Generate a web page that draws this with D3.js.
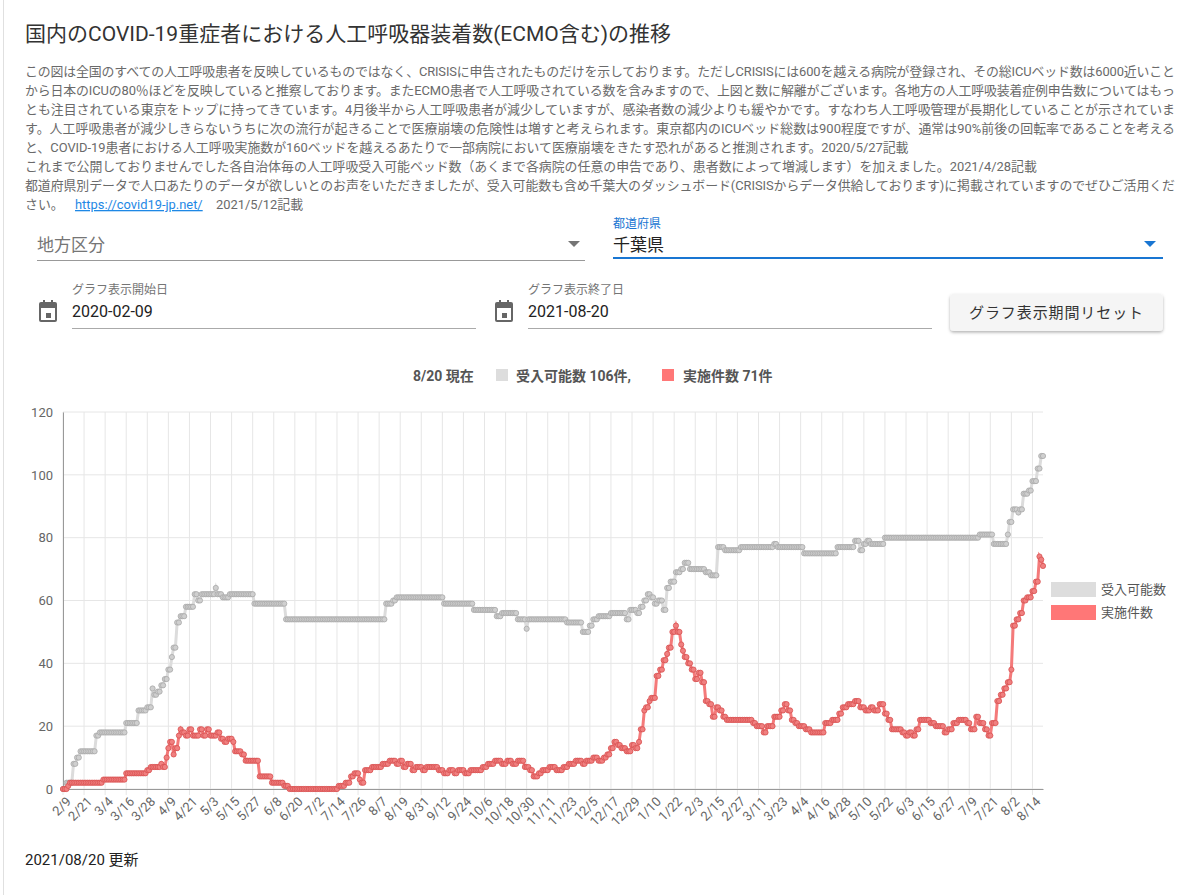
<!DOCTYPE html>
<html><head><meta charset="utf-8">
<script src="https://cdn.jsdelivr.net/npm/d3@7/dist/d3.min.js"></script>
<style>body{margin:0;background:#fff;font-family:Roboto,"Noto Sans CJK JP",sans-serif}</style>
</head><body><svg id="c" width="1200" height="895"></svg>
<script>
const startDate = "2020-02-09", endDate = "2021-08-20";
// change points [date, value]; value holds until the next entry
const capacityChanges = [["2020-02-09",0],["2020-02-11",2],["2020-02-15",8],["2020-02-17",10],["2020-02-19",12],["2020-02-28",17],["2020-03-01",18],["2020-03-16",21],["2020-03-23",25],["2020-03-28",26],["2020-03-31",32],["2020-04-01",30],["2020-04-03",31],["2020-04-05",33],["2020-04-07",35],["2020-04-09",38],["2020-04-11",42],["2020-04-12",45],["2020-04-14",53],["2020-04-16",55],["2020-04-19",58],["2020-04-24",62],["2020-04-26",60],["2020-04-28",62],["2020-05-06",64],["2020-05-07",62],["2020-05-10",61],["2020-05-14",62],["2020-05-28",59],["2020-06-15",54],["2020-08-11",59],["2020-08-15",60],["2020-08-17",61],["2020-09-13",59],["2020-09-30",57],["2020-10-13",55],["2020-10-16",56],["2020-10-25",54],["2020-10-30",51],["2020-10-31",54],["2020-11-22",53],["2020-12-01",50],["2020-12-05",52],["2020-12-07",54],["2020-12-10",55],["2020-12-17",56],["2020-12-26",54],["2020-12-28",57],["2021-01-01",56],["2021-01-03",58],["2021-01-05",60],["2021-01-07",62],["2021-01-09",61],["2021-01-11",59],["2021-01-13",60],["2021-01-16",57],["2021-01-18",64],["2021-01-20",66],["2021-01-23",69],["2021-01-26",70],["2021-01-28",72],["2021-01-31",70],["2021-02-09",69],["2021-02-12",68],["2021-02-16",77],["2021-02-20",76],["2021-03-01",77],["2021-03-20",78],["2021-03-22",77],["2021-04-06",75],["2021-04-25",77],["2021-05-05",79],["2021-05-08",76],["2021-05-10",78],["2021-05-12",79],["2021-05-14",78],["2021-05-22",80],["2021-07-15",81],["2021-07-23",78],["2021-07-31",81],["2021-08-01",85],["2021-08-03",89],["2021-08-06",88],["2021-08-07",89],["2021-08-09",94],["2021-08-12",95],["2021-08-14",98],["2021-08-17",102],["2021-08-19",106]];
const casesChanges = [["2020-02-09",0],["2020-02-12",1],["2020-02-13",2],["2020-03-03",3],["2020-03-16",5],["2020-03-28",6],["2020-03-30",7],["2020-04-05",8],["2020-04-06",7],["2020-04-08",10],["2020-04-09",13],["2020-04-10",15],["2020-04-12",11],["2020-04-13",13],["2020-04-15",17],["2020-04-16",19],["2020-04-17",18],["2020-04-19",17],["2020-04-21",19],["2020-04-23",17],["2020-04-27",19],["2020-04-29",17],["2020-05-01",19],["2020-05-03",17],["2020-05-07",18],["2020-05-09",16],["2020-05-11",15],["2020-05-13",16],["2020-05-16",15],["2020-05-17",12],["2020-05-21",11],["2020-05-23",9],["2020-05-31",4],["2020-06-07",2],["2020-06-14",1],["2020-06-17",0],["2020-07-15",1],["2020-07-19",2],["2020-07-22",4],["2020-07-24",5],["2020-07-27",3],["2020-07-28",2],["2020-07-30",6],["2020-08-03",7],["2020-08-09",8],["2020-08-13",9],["2020-08-17",8],["2020-08-19",9],["2020-08-21",7],["2020-08-23",8],["2020-08-26",6],["2020-08-28",7],["2020-09-01",6],["2020-09-03",7],["2020-09-10",6],["2020-09-13",5],["2020-09-16",6],["2020-09-19",5],["2020-09-21",6],["2020-09-25",5],["2020-09-28",6],["2020-10-05",7],["2020-10-08",8],["2020-10-12",9],["2020-10-16",8],["2020-10-19",9],["2020-10-22",8],["2020-10-25",9],["2020-10-29",7],["2020-11-01",6],["2020-11-03",4],["2020-11-06",5],["2020-11-08",6],["2020-11-12",7],["2020-11-16",6],["2020-11-20",7],["2020-11-23",8],["2020-11-27",9],["2020-12-01",8],["2020-12-03",9],["2020-12-07",10],["2020-12-10",9],["2020-12-13",10],["2020-12-15",11],["2020-12-17",13],["2020-12-19",15],["2020-12-21",14],["2020-12-23",13],["2020-12-26",12],["2020-12-29",14],["2020-12-31",13],["2021-01-02",15],["2021-01-03",19],["2021-01-05",25],["2021-01-06",26],["2021-01-08",28],["2021-01-09",29],["2021-01-12",36],["2021-01-14",38],["2021-01-16",41],["2021-01-18",43],["2021-01-19",45],["2021-01-21",50],["2021-01-23",52],["2021-01-24",50],["2021-01-26",46],["2021-01-27",44],["2021-01-28",42],["2021-01-30",40],["2021-02-01",38],["2021-02-03",35],["2021-02-05",37],["2021-02-07",34],["2021-02-09",28],["2021-02-11",27],["2021-02-13",23],["2021-02-15",26],["2021-02-17",25],["2021-02-19",23],["2021-02-21",22],["2021-03-08",21],["2021-03-10",20],["2021-03-14",18],["2021-03-16",20],["2021-03-20",23],["2021-03-24",25],["2021-03-26",27],["2021-03-28",25],["2021-03-30",22],["2021-04-01",21],["2021-04-03",20],["2021-04-07",19],["2021-04-10",18],["2021-04-18",21],["2021-04-22",22],["2021-04-26",24],["2021-04-28",26],["2021-05-01",27],["2021-05-05",28],["2021-05-08",26],["2021-05-11",25],["2021-05-14",26],["2021-05-16",25],["2021-05-19",27],["2021-05-22",24],["2021-05-24",22],["2021-05-26",19],["2021-06-01",18],["2021-06-03",17],["2021-06-05",18],["2021-06-07",17],["2021-06-09",19],["2021-06-11",22],["2021-06-17",21],["2021-06-20",20],["2021-06-25",18],["2021-06-27",19],["2021-06-30",21],["2021-07-03",22],["2021-07-08",21],["2021-07-10",19],["2021-07-13",23],["2021-07-15",21],["2021-07-18",19],["2021-07-20",17],["2021-07-22",21],["2021-07-25",28],["2021-07-27",30],["2021-07-29",32],["2021-07-31",34],["2021-08-02",38],["2021-08-03",52],["2021-08-05",54],["2021-08-07",56],["2021-08-09",60],["2021-08-11",61],["2021-08-14",63],["2021-08-16",66],["2021-08-18",74],["2021-08-19",73],["2021-08-20",71]];
const yTicks = [0,20,40,60,80,100,120];
const seriesNames = ["受入可能数","実施件数"];
const noteLines = [
"この図は全国のすべての人工呼吸患者を反映しているものではなく、CRISISに申告されたものだけを示しております。ただしCRISISには600を越える病院が登録され、その総ICUベッド数は6000近いこと",
"から日本のICUの80％ほどを反映していると推察しております。またECMO患者で人工呼吸されている数を含みますので、上図と数に解離がございます。各地方の人工呼吸装着症例申告数についてはもっ",
"とも注目されている東京をトップに持ってきています。4月後半から人工呼吸患者が減少していますが、感染者数の減少よりも緩やかです。すなわち人工呼吸管理が長期化していることが示されていま",
"す。人工呼吸患者が減少しきらないうちに次の流行が起きることで医療崩壊の危険性は増すと考えられます。東京都内のICUベッド総数は900程度ですが、通常は90%前後の回転率であることを考える",
"と、COVID-19患者における人工呼吸実施数が160ベッドを越えるあたりで一部病院において医療崩壊をきたす恐れがあると推測されます。2020/5/27記載",
"これまで公開しておりませんでした各自治体毎の人工呼吸受入可能ベッド数（あくまで各病院の任意の申告であり、患者数によって増減します）を加えました。2021/4/28記載",
"都道府県別データで人口あたりのデータが欲しいとのお声をいただきましたが、受入可能数も含め千葉大のダッシュボード(CRISISからデータ供給しております)に掲載されていますのでぜひご活用くだ"];
const fullWidth = [true,true,true,true,false,false,true];

const parse = d3.utcParse("%Y-%m-%d");
function expand(ch){
  const days = d3.utcDay.range(parse(startDate), d3.utcDay.offset(parse(endDate),1));
  let i=0, out=[];
  days.forEach(d=>{ while(i+1<ch.length && parse(ch[i+1][0])<=d) i++; out.push({d, v:ch[i][1]}); });
  return out;
}
const cap = expand(capacityChanges), cas = expand(casesChanges);

const svg = d3.select("#c");
const F = 'Roboto,"Noto Sans CJK JP",sans-serif';
svg.append("line").attr("x1",3.5).attr("x2",3.5).attr("y1",0).attr("y2",895).attr("stroke","#e0e0e0");
svg.append("text").attr("x",25).attr("y",41).attr("font-size",21).attr("fill","#333").attr("font-family",F)
  .text("国内のCOVID-19重症者における人工呼吸器装着数(ECMO含む)の推移");
noteLines.forEach((t,i)=>{
  const tx = svg.append("text").attr("x",25).attr("y",76+i*19).attr("font-size",12.9).attr("fill","#6a6a6a").attr("font-family",F).text(t);
  if(fullWidth[i]) tx.attr("textLength",1150).attr("lengthAdjust","spacing");
});
const l8 = svg.append("text").attr("y",209).attr("font-size",12.9).attr("font-family",F).attr("fill","#6a6a6a");
l8.append("tspan").attr("x",25).text("さい。");
l8.append("tspan").attr("x",75).attr("fill","#1e88e5").attr("text-decoration","underline").text("https://covid19-jp.net/");
l8.append("tspan").attr("x",216).text("2021/5/12記載");

// controls
svg.append("text").attr("x",37).attr("y",251).attr("font-size",17).attr("fill","#757575").attr("font-family",F).text("地方区分");
svg.append("line").attr("x1",37).attr("x2",585).attr("y1",260.5).attr("y2",260.5).attr("stroke","#999");
svg.append("path").attr("d","M568,241 L580,241 L574,247Z").attr("fill","#757575");
svg.append("text").attr("x",613).attr("y",228).attr("font-size",12).attr("fill","#1976d2").attr("font-family",F).text("都道府県");
svg.append("text").attr("x",613).attr("y",251).attr("font-size",17).attr("fill","#222").attr("font-family",F).text("千葉県");
svg.append("rect").attr("x",613).attr("y",257).attr("width",550).attr("height",2).attr("fill","#1976d2");
svg.append("path").attr("d","M1144,241 L1156,241 L1150,247Z").attr("fill","#1976d2");
function dateField(x,label,val,x2){
  const g=svg.append("g");
  g.append("rect").attr("x",x-33).attr("y",302).attr("width",18).attr("height",20).attr("rx",2).attr("fill","#666");
  g.append("rect").attr("x",x-31).attr("y",308).attr("width",14).attr("height",12).attr("fill","#fff");
  g.append("rect").attr("x",x-26).attr("y",313).attr("width",5).attr("height",5).attr("fill","#666");
  g.append("rect").attr("x",x-29).attr("y",300).attr("width",2).attr("height",4).attr("fill","#666");
  g.append("rect").attr("x",x-21).attr("y",300).attr("width",2).attr("height",4).attr("fill","#666");
  g.append("text").attr("x",x).attr("y",294).attr("font-size",12).attr("fill","#757575").attr("font-family",F).text(label);
  g.append("text").attr("x",x).attr("y",317).attr("font-size",16).attr("fill","#222").attr("font-family",F).text(val);
  g.append("line").attr("x1",x).attr("x2",x2).attr("y1",328.5).attr("y2",328.5).attr("stroke","#aaa");
}
dateField(72,"グラフ表示開始日","2020-02-09",476);
dateField(528,"グラフ表示終了日","2021-08-20",932);
const defs=svg.append("defs");
const fl=defs.append("filter").attr("id","sh").attr("x","-10%").attr("y","-20%").attr("width","120%").attr("height","160%");
fl.append("feDropShadow").attr("dx",0).attr("dy",1.5).attr("stdDeviation",1.5).attr("flood-color","#000").attr("flood-opacity",0.3);
svg.append("rect").attr("x",950).attr("y",294).attr("width",213).attr("height",37).attr("rx",4).attr("fill","#f5f5f5").attr("filter","url(#sh)");
svg.append("text").attr("x",1056.5).attr("y",318).attr("text-anchor","middle").attr("font-size",15).attr("letter-spacing",0.9).attr("fill","#333").attr("font-family",F).text("グラフ表示期間リセット");

// header summary
const last = cap.length-1;
const hd = svg.append("g").attr("font-family",F).attr("font-size",14).attr("font-weight","bold").attr("fill","#555");
hd.append("text").attr("x",413).attr("y",381).text("8/20 現在");
hd.append("rect").attr("x",496).attr("y",369).attr("width",12).attr("height",12).attr("fill","#ddd");
hd.append("text").attr("x",516).attr("y",381).text(`受入可能数 ${cap[last].v}件,`);
hd.append("rect").attr("x",662).attr("y",369).attr("width",12).attr("height",12).attr("fill","#f77");
hd.append("text").attr("x",683).attr("y",381).text(`実施件数 ${cas[last].v}件`);

// chart
const x = d3.scaleUtc().domain([parse(startDate),parse(endDate)]).range([63,1043]);
const y = d3.scaleLinear().domain([0,120]).range([789,412]);
const tickDates = d3.utcDay.range(parse(startDate), d3.utcDay.offset(parse(endDate),1), 12);
const grid = svg.append("g");
yTicks.forEach(t=>grid.append("line").attr("x1",63).attr("x2",1043).attr("y1",y(t)).attr("y2",y(t)).attr("stroke","#e6e6e6"));
tickDates.forEach(d=>grid.append("line").attr("x1",x(d)).attr("x2",x(d)).attr("y1",412).attr("y2",795).attr("stroke","#e6e6e6"));
const ya = svg.append("g").attr("transform","translate(63,0)").call(d3.axisLeft(y).tickValues(yTicks).tickSize(0).tickPadding(10));
ya.select(".domain").attr("stroke","#999");
ya.selectAll("text").attr("font-size",13).attr("fill","#666").attr("font-family",F);
const xa = svg.append("g").attr("transform","translate(0,789)").call(d3.axisBottom(x).tickValues(tickDates).tickSize(0).tickFormat(d3.utcFormat("%-m/%-d")));
xa.select(".domain").attr("stroke","#999");
xa.selectAll("text").attr("font-size",13).attr("fill","#666").attr("font-family",F)
  .attr("text-anchor","end").attr("transform","translate(3,8) rotate(-45)").attr("dy","0.35em");

function drawSeries(data,lineC,ptFill,ptStroke){
  svg.append("path").datum(data).attr("fill","none").attr("stroke",lineC).attr("stroke-width",3)
    .attr("d",d3.line().x(d=>x(d.d)).y(d=>y(d.v)));
  svg.append("g").selectAll("circle").data(data).join("circle").attr("cx",d=>x(d.d)).attr("cy",d=>y(d.v)).attr("r",2.6)
    .attr("fill",ptFill).attr("stroke",ptStroke).attr("stroke-width",0.8);
}
drawSeries(cap,"#dcdcdc","#cfcfcf","#a8a8a8");
drawSeries(cas,"#f47a7a","#f08080","#d85050");

// legend
const lg = svg.append("g").attr("font-family",F).attr("font-size",13).attr("fill","#555");
[["#ddd",seriesNames[0],582],["#f77",seriesNames[1],605]].forEach(([c,t,yy])=>{
  lg.append("rect").attr("x",1051).attr("y",yy).attr("width",45).attr("height",15).attr("fill",c);
  lg.append("text").attr("x",1101).attr("y",yy+12).text(t);
});
svg.append("text").attr("x",25).attr("y",865).attr("font-size",15).attr("fill","#222").attr("font-family",F).text("2021/08/20 更新");
</script></body></html>
